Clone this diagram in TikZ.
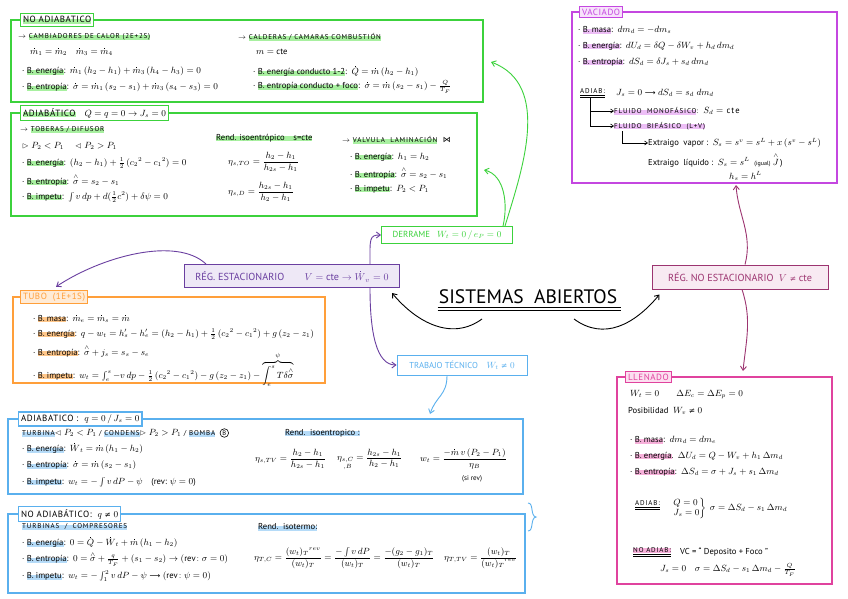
\documentclass[tikz,border=0pt]{standalone}
\usepackage{amsmath,amssymb}
\usepackage{fontspec}
\setmainfont{PT Sans}
\newfontfamily\symf{DejaVu Sans}
\usetikzlibrary{arrows.meta}

\definecolor{cgreen}{HTML}{3CD23C}
\definecolor{hgreen}{HTML}{A8F0A0}
\definecolor{cpurp}{HTML}{6A3FA0}
\definecolor{fpurp}{HTML}{EEE8F6}
\definecolor{cmag}{HTML}{9C3470}
\definecolor{fmag}{HTML}{F8EAF2}
\definecolor{cviol}{HTML}{C447E0}
\definecolor{hviol}{HTML}{EDBEF6}
\definecolor{cpink}{HTML}{E0439E}
\definecolor{hpink}{HTML}{F7B0DA}
\definecolor{corange}{HTML}{FF9F3A}
\definecolor{horange}{HTML}{FFC78A}
\definecolor{cblue}{HTML}{5AB0EE}
\definecolor{hblue}{HTML}{B5DBF8}

% highlighter bar behind a word
\newcommand\mrk[2]{\setbox0\hbox{#2}\rlap{\color{#1}\rule[-1pt]{\wd0}{5pt}}\box0}
\newcommand\capsfont{\fontsize{7}{8}\selectfont\addfontfeatures{LetterSpace=12}}
% dotted / hatted symbols, not equal, long arrow
\newcommand\dt[1]{\overset{\rule{1pt}{1pt}}{#1}}
\newcommand\hs{\overset{\wedge}{\sigma}}
\newcommand\nq{\mathrel{\text{\symf\fontsize{7.5}{9}\selectfont ≠}}}
\newcommand\lto{\mathrel{\text{\symf\fontsize{7.5}{9}\selectfont ⟶}}}

\tikzset{SAtxt/.style={anchor=west,inner sep=0pt,font=\fontsize{8.6}{10}\selectfont},
         SAcap/.style={anchor=west,inner sep=0pt,font=\capsfont},
         SAframe/.style={line width=1.1pt},
         SAlab/.style={draw,line width=1.1pt,anchor=west,inner sep=2.5pt,font=\fontsize{9}{10.5}\selectfont\addfontfeatures{LetterSpace=6}},
         SAmain/.style={draw,line width=1pt,inner sep=3pt,font=\fontsize{10.2}{12}\selectfont},
         SAarr/.style={line width=0.9pt,-{Straight Barb[length=4pt,width=6pt]}},
         SAtree/.style={line width=0.6pt,-{Straight Barb[length=3pt,width=4pt]}}}

\begin{document}
\begin{tikzpicture}[x=1pt,y=-1pt]
  \useasboundingbox[fill=white] (0,0) rectangle (848,599);

  % ---- no adiabatico (verde)
  \draw[SAframe,cgreen] (11,20) rectangle (483,102);
  \node[SAlab,draw=cgreen,fill=white] (noadv) at (20,20) {\mrk{hgreen}{NO ADIABATICO}};
  \node[SAcap] (cambi) at (18,37) {$\rightarrow$ \mrk{hgreen}{CAMBIADORES DE CALOR (2E+2S)}};
  \node[SAtxt] (cmas) at (30,51) {$\dt m_1=\dt m_2\quad \dt m_3=\dt m_4$};
  \node[SAtxt] (cene) at (22,71) {· \mrk{hgreen}{B. energía}:\ \ $\dt m_1\,(h_2-h_1)+\dt m_3\,(h_4-h_3)=0$};
  \node[SAtxt] (cent) at (22,87) {· \mrk{hgreen}{B. entropía}:\ \ $\dt\sigma=\dt m_1\,(s_2-s_1)+\dt m_3\,(s_4-s_3)=0$};
  \node[SAcap] (cald) at (238,37) {$\rightarrow$ \mrk{hgreen}{CALDERAS / CAMARAS COMBUSTIÓN}};
  \node[SAtxt] (calm) at (256,52) {$m=$ cte};
  \node[SAtxt] (calene) at (253,71) {· \mrk{hgreen}{B. energía conducto 1-2} :\ \ $\dt Q=\dt m\,(h_2-h_1)$};
  \node[SAtxt] (calent) at (253,87) {· \mrk{hgreen}{B. entropía conducto + foco} :\ \ $\dt\sigma=\dt m\,(s_2-s_1)-\frac{Q}{T_F}$};

  % ---- adiabatico (verde)
  \draw[SAframe,cgreen] (11,113) rectangle (477,216);
  \node[SAlab,draw=cgreen,fill=white] (adv) at (20,113) {\mrk{hgreen}{ADIABÁTICO}\quad $Q=q=0\rightarrow J_s=0$};
  \node[SAcap] (tob) at (20,130) {$\rightarrow$ \mrk{hgreen}{TOBERAS / DIFUSOR}};
  \node[SAtxt] (tobp) at (22,146) {$\vartriangleright P_2<P_1\quad \vartriangleleft P_2>P_1$};
  \node[SAtxt] (tobene) at (22,163) {· \mrk{hgreen}{B. energía}:\ \ $(h_2-h_1)+\frac12\,({c_2}^2-{c_1}^2)=0$};
  \node[SAtxt] (tobent) at (22,180) {· \mrk{hgreen}{B. entropía}:\ \ $\hs=s_2-s_1$};
  \node[SAtxt] (tobimp) at (22,197) {· \mrk{hgreen}{B. impetu}:\ \ $\int v\,dp+d(\frac12c^2)+\delta\psi=0$};
  \node[SAtxt] (rend) at (216,138) {\mrk{hgreen}{Rend. isoentrópico\quad s=cte}};
  \node[SAtxt] (etato) at (228,162) {$\eta_{s,TO}=\dfrac{h_2-h_1}{h_{2s}-h_1}$};
  \node[SAtxt] (etad) at (228,192) {$\eta_{s,D}=\dfrac{h_{2s}-h_1}{h_2-h_1}$};
  \node[SAcap] (valv) at (342,140) {$\rightarrow$ \mrk{hgreen}{VALVULA\ \ LAMINACIÓN}\ \ {\symf\fontsize{8}{9}\selectfont ⋈}};
  \node[SAtxt] (valene) at (350,157) {· \mrk{hgreen}{B. energía}:\ \ $h_1=h_2$};
  \node[SAtxt] (valent) at (350,173) {· \mrk{hgreen}{B. entropía}:\ \ $\hs=s_2-s_1$};
  \node[SAtxt] (valimp) at (350,189) {· \mrk{hgreen}{B. impetu}:\ \ $P_2<P_1$};

  % ---- vaciado
  \draw[SAframe,cviol] (572,12) rectangle (837,183);
  \node[SAlab,draw=cviol,fill=hviol!45,text=cviol] (vac) at (579,12) {VACIADO};
  \node[SAtxt] (vmas) at (578,30) {· \mrk{hviol}{B. masa} :\ \ $dm_d=-dm_s$};
  \node[SAtxt] (vene) at (578,46) {· \mrk{hviol}{B. energía} :\ \ $dU_d=\delta Q-\delta W_v+h_d\,dm_d$};
  \node[SAtxt] (vent) at (578,62) {· \mrk{hviol}{B. entropía}:\ \ $dS_d=\delta J_s+s_d\,dm_d$};
  \node[SAcap] (vadb) at (580,93) {\underline{\underline{ADIAB:}}};
  \node[SAtxt] (vadbe) at (616,93) {$J_s=0\lto dS_d=s_d\;dm_d$};
  \node[SAcap] (mono) at (614,111) {\mrk{hviol}{FLUIDO\ \ MONOFÁSICO} :\ \ {\fontsize{8.6}{10}\selectfont$S_d=$ cte}};
  \node[SAcap] (bif) at (614,126) {\mrk{hviol}{FLUIDO\ \ BIFÁSICO\ \ (L+V)}};
  \node[SAtxt] (vap) at (648,143) {Extraigo\ \ vapor :\ \ $S_s=s^v=s^L+x\,(s^v-s^L)$};
  \node[SAtxt] (liq) at (648,160) {Extraigo\ \ líquido :\ \ $S_s=s^L$\ \ {\fontsize{6}{7}\selectfont(igual)} $\overset{\wedge}{J}$\,)};
  \node[SAtxt] (liqh) at (729,176) {$h_s=h^L$};
  \draw[SAtree] ([xshift=-2pt,yshift=-1pt]vadb.south) |- (mono.west);
  \draw[SAtree] ([xshift=-2pt,yshift=-1pt]vadb.south) |- (bif.west);
  \draw[SAtree] ([xshift=8pt,yshift=-1pt]bif.south west) |- (vap.west);

  % ---- nodos centrales
  \node[SAmain,draw=cpurp,fill=fpurp,text=cpurp,minimum width=215pt,minimum height=23pt] (reg) at (292,276)
       {RÉG. ESTACIONARIO\qquad $V=$ cte $\rightarrow\dt W_v=0$};
  \node[SAmain,draw=cgreen,fill=white,text=cgreen,minimum width=131pt,minimum height=17pt,font=\fontsize{8.8}{10}\selectfont] (derr) at (447,235)
       {DERRAME\ \ \ $W_t=0\,/\,e_P=0$};
  \node[inner sep=1pt,font=\fontsize{19.5}{22}\selectfont] (ttl) at (528,297) {SISTEMAS\ \ ABIERTOS};
  \draw[line width=0.9pt] ([yshift=-2pt]ttl.south west) -- ([yshift=-2pt,xshift=3pt]ttl.south east);
  \draw[line width=0.9pt] ([yshift=-5pt]ttl.south west) -- ([yshift=-5pt,xshift=3pt]ttl.south east);
  \node[SAmain,draw=cmag,fill=fmag,text=cmag,minimum width=176pt,minimum height=24pt] (regno) at (740,277)
       {RÉG. NO ESTACIONARIO\ \ $V\nq$ cte};
  \node[SAmain,draw=cblue,fill=white,text=cblue,minimum width=130pt,minimum height=20pt,font=\fontsize{8.6}{10}\selectfont] (trab) at (462,365)
       {TRABAJO TÉCNICO\quad $W_t\nq0$};

  % ---- tubo (naranja)
  \draw[SAframe,corange] (13,297) rectangle (325,383);
  \node[SAlab,draw=corange,fill=horange!35,text=corange] (tubo) at (20,297) {TUBO\ \ (1E+1S)};
  \node[SAtxt] (tmas) at (33,318) {· \mrk{horange}{B. masa} :\ \ $\dt m_e=\dt m_s=\dt m$};
  \node[SAtxt] (tene) at (33,334) {· \mrk{horange}{B. energía}:\ \ $q-w_t=h'_s-h'_e=(h_2-h_1)+\frac12\,({c_2}^2-{c_1}^2)+g\,(z_2-z_1)$};
  \node[SAtxt] (tent) at (33,351) {· \mrk{horange}{B. entropía}:\ \ $\hs+j_s=s_s-s_e$};
  \node[SAtxt] (timp) at (33,369) {· \mrk{horange}{B. impetu}:\ \ $w_t=\int_e^s -v\,dp-\frac12\,({c_2}^2-{c_1}^2)-g\,(z_2-z_1)-\overbrace{\int_e^s T\delta\hs}^{\psi}$};

  % ---- adiabatico (azul)
  \draw[SAframe,cblue] (8,419) rectangle (523,494);
  \node[SAlab,draw=cblue,fill=white] (adb) at (18,419) {ADIABATICO :\ \ $q=0\,/\,J_s=0$};
  \node[SAcap] (turb) at (22,433) {\mrk{hblue}{TURBINA} {\fontsize{8.6}{10}\selectfont$\vartriangleleft P_2<P_1$} / \mrk{hblue}{CONDENS} {\fontsize{8.6}{10}\selectfont$\vartriangleright P_2>P_1$} / \mrk{hblue}{BOMBA}};
  \node[inner sep=0pt,font=\fontsize{6.5}{7}\selectfont] (bomb) at ([xshift=9pt]turb.east) {B};
  \draw[line width=0.6pt] (bomb.center) circle (4.3pt);
  \node[SAtxt] (bene) at (22,448) {· \mrk{hblue}{B. energía}:\ \ $\dt W_t=\dt m\,(h_1-h_2)$};
  \node[SAtxt] (bent) at (22,465) {· \mrk{hblue}{B. entropía}:\ \ $\dt\sigma=\dt m\,(s_2-s_1)$};
  \node[SAtxt] (bimp) at (22,482) {· \mrk{hblue}{B. impetu}:\ \ $w_t=-\int v\,dP-\psi$\quad (rev: $\psi=0$)};
  \node[SAtxt] (brend) at (285,433) {\mrk{hblue}{Rend.\ \ isoentropico :}};
  \node[SAtxt] (betv) at (255,459) {$\eta_{s,TV}=\dfrac{h_2-h_1}{h_{2s}-h_1}$};
  \node[SAtxt] (betc) at (337,459) {$\eta_{\substack{s,C\\ ,B}}=\dfrac{h_{2s}-h_1}{h_2-h_1}$};
  \node[SAtxt] (bwt) at (420,459) {$w_t=\dfrac{-\dt m\,v\,(P_2-P_1)}{\eta_B}$};
  \node[SAtxt,font=\fontsize{7}{8}\selectfont] (bsirev) at (462,479) {(si rev)};
  \draw[SAarr,cblue] ([xshift=-15pt]trab.south) .. controls +(0,20) and +(6,-18) .. (430,414);

  % ---- no adiabatico (azul)
  \draw[SAframe,cblue] (8,514) rectangle (525,593);
  \node[SAlab,draw=cblue,fill=white] (nadb) at (18,514) {NO ADIABÁTICO:\ \ $q\nq0$};
  \node[SAcap] (turc) at (22,527) {\mrk{hblue}{TURBINAS\ \ /\ \ COMPRESORES}};
  \node[SAtxt] (nene) at (22,542) {· \mrk{hblue}{B. energía}:\ \ $0=\dt Q-\dt W_t+\dt m\,(h_1-h_2)$};
  \node[SAtxt] (nent) at (22,559) {· \mrk{hblue}{B. entropía}:\ \ $0=\hs+\frac{q}{T_F}+(s_1-s_2)\rightarrow(\mathrm{rev}\!:\sigma=0)$};
  \node[SAtxt] (nimp) at (22,576) {· \mrk{hblue}{B. impetu}:\ \ $w_t=-\int_1^2 v\,dP-\psi\lto(\mathrm{rev}\!:\psi=0)$};
  \node[SAtxt] (nrend) at (258,527) {\mrk{hblue}{Rend.\ \ isotermo:}};
  \node[SAtxt] (netc) at (254,558) {$\eta_{T,C}=\dfrac{{(w_t)_T}^{rev}}{(w_t)_T}=\dfrac{-\int v\,dP}{(w_t)_T}=\dfrac{-(g_2-g_1)_T}{(w_t)_T}$};
  \node[SAtxt] (nett) at (444,558) {$\eta_{T,TV}=\dfrac{(w_t)_T}{{(w_t)_T}^{rev}}$};
  \draw[line width=0.9pt,cblue] (528,503) .. controls (534,503) and (530,516) .. (536,517)
        .. controls (530,518) and (534,531) .. (528,531);

  % ---- llenado
  \draw[SAframe,cpink] (617,377) rectangle (832,584);
  \node[SAlab,draw=cpink,fill=hpink!40,text=cpink] (llen) at (625,377) {LLENADO};
  \node[SAtxt] (lw) at (630,395) {$W_t=0$\qquad $\Delta E_c=\Delta E_p=0$};
  \node[SAtxt] (lpos) at (628,411) {Posibilidad\ \ $W_v\nq0$};
  \node[SAtxt] (lmas) at (630,440) {· \mrk{hpink}{B. masa} :\ \ $dm_d=dm_e$};
  \node[SAtxt] (lene) at (630,456) {· \mrk{hpink}{B. energía}.\ \ $\Delta U_d=Q-W_v+h_1\,\Delta m_d$};
  \node[SAtxt] (lent) at (630,472) {· \mrk{hpink}{B. entropía}:\ \ $\Delta S_d=\sigma+J_s+s_1\,\Delta m_d$};
  \node[SAcap] (ladb) at (635,505) {\underline{\underline{ADIAB:}}};
  \node[SAtxt] (ladbe) at (672,508) {$\left.\begin{array}{@{}l@{}}Q=0\\ J_s=0\end{array}\right\}\ \sigma=\Delta S_d-s_1\,\Delta m_d$};
  \node[SAcap] (lnadb) at (633,552) {\underline{\underline{\mrk{hpink}{NO ADIAB:}}}};
  \node[SAtxt] (lvc) at (680,552) {VC = “ Deposito + Foco ”};
  \node[SAtxt] (ljs) at (660,570) {$J_s=0\quad \sigma=\Delta S_d-s_1\,\Delta m_d-\frac{Q}{T_F}$};

  % ---- conectores
  \draw[SAarr] (482,319) .. controls +(-30,22) and +(25,30) .. ([xshift=-8pt,yshift=-5pt]reg.south east);
  \draw[SAarr] (574,319) .. controls +(30,22) and +(-25,30) .. ([xshift=8pt,yshift=-5pt]regno.south west);
  \draw[SAarr,cpurp] ([xshift=22pt]reg.north west) .. controls +(-30,-28) and +(45,-30) .. ([xshift=2pt,yshift=3pt]tubo.north);
  \draw[SAarr,cpurp] ([xshift=-30pt]reg.north east) .. controls +(0,-25) and +(-12,0) .. (derr.west);
  \draw[SAarr,cpurp] ([xshift=-30pt]reg.south east) .. controls +(0,45) and +(-20,0) .. (trab.west);
  \draw[SAarr,cgreen] ([xshift=-8pt]derr.north east) .. controls (522,170) and (552,85) .. (491,62);
  \draw[SAarr,cgreen] ([xshift=-10pt]derr.north east) .. controls (508,205) and (505,175) .. (484,170);
  \draw[SAarr,cmag] ([xshift=5pt]regno.north) .. controls +(8,-30) and +(2,30) .. (736,185);
  \draw[SAarr,cmag] ([xshift=2pt]regno.south) .. controls +(10,30) and +(3,-30) .. (743,371);
\end{tikzpicture}
\end{document}
